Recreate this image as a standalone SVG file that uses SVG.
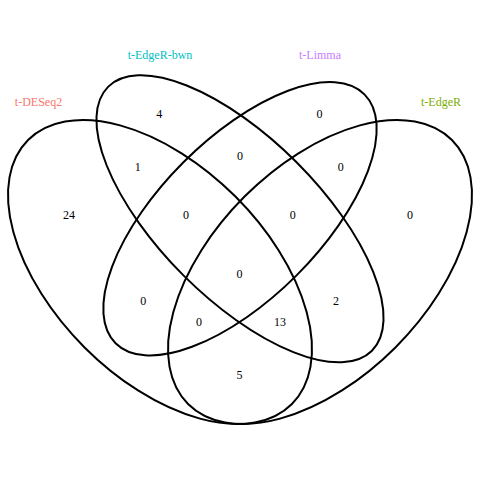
<svg xmlns="http://www.w3.org/2000/svg" width="480" height="480" viewBox="0 0 480 480">
  <style>
    .set { fill: none; stroke: #000000; stroke-width: 2; }
    .num { font-family: "Liberation Serif", "Times New Roman", serif; font-size: 12px; fill: #000000; text-anchor: middle; }
    .lab { font-family: "Liberation Serif", "Times New Roman", serif; font-size: 12px; text-anchor: middle; }
  </style>
  <rect x="0" y="0" width="480" height="480" fill="#ffffff"/>
  <g id="set-deseq2">
    <ellipse class="set" cx="160" cy="272" rx="186.6" ry="106.7" transform="rotate(45 160 272)"/>
    <text class="lab" x="38.5" y="106" fill="#F8766D">t-DESeq2</text>
  </g>
  <g id="set-edger-bwn">
    <ellipse class="set" cx="240" cy="218.8" rx="186.6" ry="80" transform="rotate(45 240 218.8)"/>
    <text class="lab" x="160" y="59" fill="#00BFC4">t-EdgeR-bwn</text>
  </g>
  <g id="set-limma">
    <ellipse class="set" cx="240" cy="218.8" rx="176" ry="80" transform="rotate(-45 240 218.8)"/>
    <text class="lab" x="320" y="59" fill="#C77CFF">t-Limma</text>
  </g>
  <g id="set-edger">
    <ellipse class="set" cx="320" cy="272" rx="186.6" ry="106.7" transform="rotate(-45 320 272)"/>
    <text class="lab" x="441" y="106" fill="#7CAE00">t-EdgeR</text>
  </g>
  <g id="counts">
    <text class="num" x="159.3" y="118">4</text>
    <text class="num" x="319.5" y="117.5">0</text>
    <text class="num" x="137.7" y="171">1</text>
    <text class="num" x="240" y="160">0</text>
    <text class="num" x="340.7" y="171">0</text>
    <text class="num" x="69" y="219">24</text>
    <text class="num" x="186" y="219">0</text>
    <text class="num" x="292.7" y="219">0</text>
    <text class="num" x="410" y="219">0</text>
    <text class="num" x="239.5" y="277.5">0</text>
    <text class="num" x="143.3" y="305">0</text>
    <text class="num" x="336" y="305">2</text>
    <text class="num" x="199" y="326">0</text>
    <text class="num" x="280" y="326">13</text>
    <text class="num" x="239.5" y="379">5</text>
  </g>
</svg>
